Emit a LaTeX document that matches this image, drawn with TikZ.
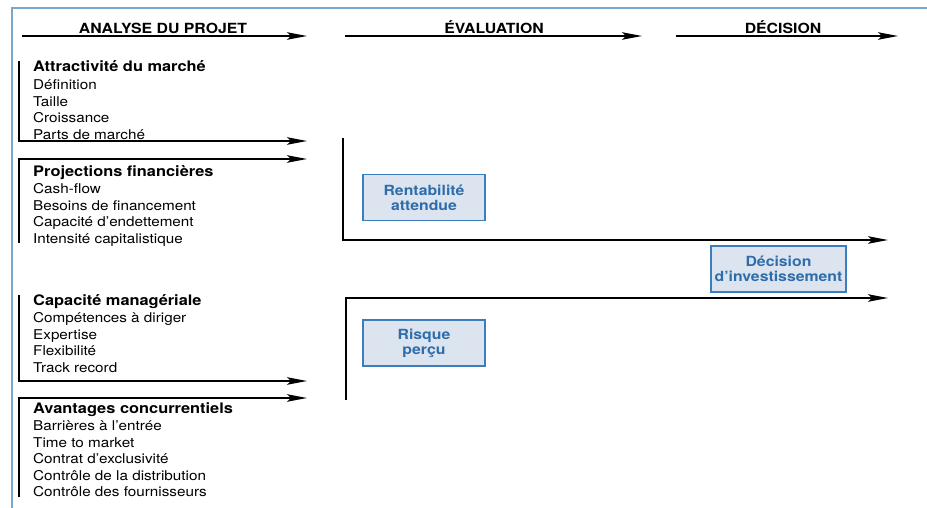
\documentclass[tikz,border=0pt]{standalone}
\usepackage{fontspec}
\setmainfont{TeX Gyre Heros}[FakeStretch=1.13]
\usetikzlibrary{arrows.meta,positioning}
\definecolor{boxblue}{HTML}{3C7DBE}
\definecolor{boxfill}{HTML}{DCE4F0}
\definecolor{txtblue}{HTML}{2E6DAB}
\definecolor{framebl}{HTML}{7AA6CC}
\tikzset{
  grp/.style = {anchor=north west, inner sep=0pt, align=left, font=\fontsize{13.5}{16.5}\selectfont},
  box/.style = {draw=boxblue, fill=boxfill, line width=1.2pt, rectangle, minimum height=46pt, minimum width=122pt, align=center, text=txtblue, font=\bfseries\fontsize{14}{15}\selectfont},
  hdr/.style = {anchor=base, inner sep=0pt, font=\bfseries\fontsize{14}{16}\selectfont},
  bar/.style = {line width=1.6pt},
  arrow/.style = {bar, -{Stealth[length=20pt, width=7.5pt, inset=4pt]}}
}
\newcommand{\grptitle}[1]{\textbf{\fontsize{14.5}{16.5}\selectfont #1}}

\begin{document}
\begin{tikzpicture}[x=1pt, y=-1pt]
            \useasboundingbox (0,0) rectangle (927,508);
            \draw[framebl, line width=2.2pt] (12,508) -- (12,8) -- (927,8);
            % headers
            \coordinate (h1a) at (22,36);  \coordinate (h1b) at (307,36);
            \coordinate (h2a) at (345,36); \coordinate (h2b) at (642,36);
            \coordinate (h3a) at (676,36); \coordinate (h3b) at (898,36);
            \node[hdr] (analyse) at (163,33.5) {ANALYSE DU PROJET};
            \node[hdr] (evaluation) at (494,33.5) {ÉVALUATION};
            \node[hdr] (decision) at (783,33.5) {DÉCISION};
            \draw[arrow] (h1a) -- (h1b);
            \draw[arrow] (h2a) -- (h2b);
            \draw[arrow] (h3a) -- (h3b);
            % groupes
            \node[grp] (marche) at (33,60.5) {\grptitle{Attractivité du marché}\\[1.5pt]
              Définition\\ Taille\\ Croissance\\ Parts de marché};
            \node[grp] (finance) at (33,165.5) {\grptitle{Projections financières}\\[0.5pt]
              Cash-flow\\ Besoins de financement\\ Capacité d’endettement\\ Intensité capitalistique};
            \node[grp] (manage) at (33,294.5) {\grptitle{Capacité managériale}\\[0.5pt]
              Compétences à diriger\\ Expertise\\ Flexibilité\\ Track record};
            \node[grp] (avantage) at (33,402.5) {\grptitle{Avantages concurrentiels}\\[0.5pt]
              Barrières à l’entrée\\ Time to market\\ Contrat d’exclusivité\\ Contrôle de la distribution\\ Contrôle des fournisseurs};
            \coordinate (m1) at (19,61);  \coordinate (m2) at (19,141);  \coordinate (m3) at (307,141);
            \coordinate (f1) at (19,243); \coordinate (f2) at (19,159);  \coordinate (f3) at (307,159);
            \coordinate (c1) at (19,295); \coordinate (c2) at (19,381);  \coordinate (c3) at (307,381);
            \coordinate (a1) at (19,497); \coordinate (a2) at (19,398);  \coordinate (a3) at (307,398);
            \draw[arrow] (m1) -- (m2) -- (m3);
            \draw[arrow] (f1) -- (f2) -- (f3);
            \draw[arrow] (c1) -- (c2) -- (c3);
            \draw[arrow] (a1) -- (a2) -- (a3);
            % evaluation
            \node[box] (renta) at (424,197.5) {Rentabilité\\attendue};
            \node[box] (risque) at (424,343) {Risque\\perçu};
            \node[box, minimum width=135pt] (invest) at (778.5,269) {Décision\\d’investissement};
            \coordinate (r1) at (343,138); \coordinate (r2) at (343,240); \coordinate (r3) at (888,240);
            \coordinate (q1) at (346,400); \coordinate (q2) at (346,298); \coordinate (q3) at (888,298);
            \draw[arrow] (r1) -- (r2) -- (r3);
            \draw[arrow] (q1) -- (q2) -- (q3);
        \end{tikzpicture}
\end{document}
